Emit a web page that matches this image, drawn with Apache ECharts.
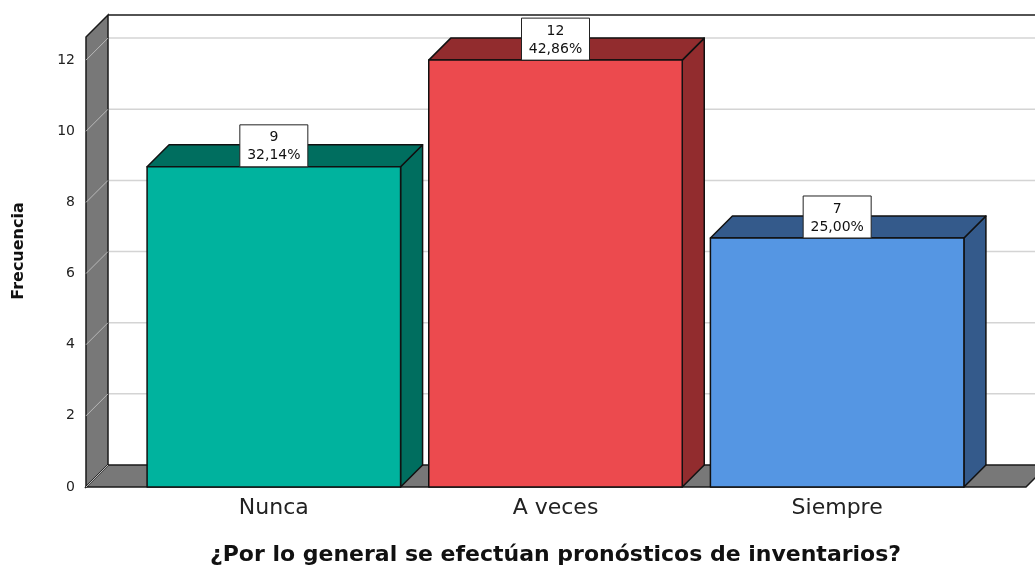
<!DOCTYPE html>
<html>
<head>
<meta charset="utf-8">
<script src="https://cdn.jsdelivr.net/npm/echarts@6/dist/echarts.min.js"></script>
<style>
    html, body { margin: 0; padding: 0; background: #fff; }
    #main { width: 1035px; height: 568px; }
</style>
</head>
<body>
<div id="main"></div>
<script>
// datos del gráfico
var categories = ['Nunca', 'A veces', 'Siempre'];
var frecuencias = [9, 12, 7];
var yTicks = [0, 2, 4, 6, 8, 10, 12];

var frontColors = ['#00B39E', '#EC4A4E', '#5596E3'];
var darkColors = ['#006E5F', '#922C2E', '#345A8B'];

var DEPTH = 22;
var FONT = '"DejaVu Sans", Verdana, sans-serif';

var total = frecuencias.reduce(function (a, b) { return a + b; }, 0);

function pctText(v) {
    return (v / total * 100).toFixed(2).replace('.', ',') + '%';
}

// paredes, suelo y lineas de cuadricula
function renderWalls(params, api) {
    var cs = params.coordSys;
    var L = cs.x - 47, R = cs.x + cs.width + 48;
    var T = cs.y, B = cs.y + cs.height;
    var d = DEPTH;
    var children = [];

    children.push({
        type: 'rect',
        shape: { x: L + d, y: T - d, width: R - L + 40, height: B - T },
        style: { fill: '#fff' }
    });

    yTicks.forEach(function (t) {
        var y = api.coord([0, t])[1];
        if (t > 0) {
            children.push({
                type: 'line',
                shape: { x1: L + d, y1: y - d, x2: R + d + 40, y2: y - d },
                style: { stroke: '#d4d4d4', lineWidth: 1.5 }
            });
        }
    });

    // pared izquierda
    children.push({
        type: 'polygon',
        shape: { points: [[L, T], [L + d, T - d], [L + d, B - d], [L, B]] },
        style: { fill: '#787878', stroke: '#1a1a1a', lineWidth: 1.5 }
    });
    // suelo
    children.push({
        type: 'polygon',
        shape: { points: [[L, B], [L + d, B - d], [R + d, B - d], [R, B]] },
        style: { fill: '#787878', stroke: '#1a1a1a', lineWidth: 1.5 }
    });

    yTicks.forEach(function (t) {
        var y = api.coord([0, t])[1];
        children.push({
            type: 'line',
            shape: { x1: L, y1: y, x2: L + d, y2: y - d },
            style: { stroke: '#b8b8b8', lineWidth: 1 }
        });
    });

    // borde superior de la pared del fondo
    children.push({
        type: 'line',
        shape: { x1: L + d, y1: T - d, x2: R + d + 40, y2: T - d },
        style: { stroke: '#1a1a1a', lineWidth: 1.5 }
    });

    return { type: 'group', children: children };
}

// barra 3D con etiqueta
function renderBar(params, api) {
    var idx = api.value(0);
    var v = api.value(1);
    var base = api.coord([idx, 0]);
    var top = api.coord([idx, v]);
    var bw = api.size([1, 0])[0] * 0.9;
    var x0 = base[0] - bw / 2, x1 = base[0] + bw / 2;
    var yt = top[1], yb = base[1];
    var d = DEPTH;
    var stroke = { stroke: '#111', lineWidth: 1.5, lineJoin: 'round' };

    var boxW = 68, boxH = 42;

    return {
        type: 'group',
        children: [
            {
                type: 'polygon',
                shape: { points: [[x1, yt], [x1 + d, yt - d], [x1 + d, yb - d], [x1, yb]] },
                style: Object.assign({ fill: darkColors[idx] }, stroke)
            },
            {
                type: 'polygon',
                shape: { points: [[x0, yt], [x1, yt], [x1 + d, yt - d], [x0 + d, yt - d]] },
                style: Object.assign({ fill: darkColors[idx] }, stroke)
            },
            {
                type: 'rect',
                shape: { x: x0, y: yt, width: bw, height: yb - yt },
                style: Object.assign({ fill: frontColors[idx] }, stroke)
            },
            {
                type: 'rect',
                shape: { x: base[0] - boxW / 2, y: yt - boxH, width: boxW, height: boxH },
                style: { fill: '#fff', stroke: '#222', lineWidth: 1 }
            },
            {
                type: 'text',
                x: base[0],
                y: yt - boxH / 2 + 1,
                style: {
                    text: v + '\n' + pctText(v),
                    font: '14px ' + FONT,
                    fill: '#111',
                    align: 'center',
                    verticalAlign: 'middle',
                    lineHeight: 18
                }
            }
        ]
    };
}

var chart = echarts.init(document.getElementById('main'));

var option = {
    animation: false,
    backgroundColor: '#fff',
    grid: { left: 133, right: 57, top: 37, bottom: 81, outerBoundsMode: 'none', containLabel: false },
    xAxis: {
        type: 'category',
        data: categories,
        axisLine: { show: false },
        axisTick: { show: false },
        axisLabel: { fontFamily: FONT, fontSize: 22, color: '#222', margin: 10 },
        name: '¿Por lo general se efectúan pronósticos de inventarios?',
        nameLocation: 'middle',
        nameGap: 57,
        nameTextStyle: { fontFamily: FONT, fontSize: 22, fontWeight: 'bold', color: '#111' }
    },
    yAxis: {
        type: 'value',
        min: 0,
        max: 12.65,
        interval: 2,
        axisLine: { show: false },
        axisTick: { show: false },
        splitLine: { show: false },
        axisLabel: {
            fontFamily: FONT, fontSize: 14, color: '#222', margin: 58,
            formatter: function (val) { return val % 2 === 0 ? String(val) : ''; }
        }
    },
    graphic: [{
        type: 'text',
        x: 19,
        y: 251,
        rotation: Math.PI / 2,
        style: {
            text: 'Frecuencia',
            font: 'bold 16px ' + FONT,
            fill: '#111',
            align: 'center',
            verticalAlign: 'middle'
        }
    }],
    series: [
        {
            type: 'custom',
            renderItem: renderWalls,
            data: [[0, 0]],
            silent: true,
            z: 1
        },
        {
            type: 'custom',
            renderItem: renderBar,
            data: frecuencias.map(function (v, i) { return [i, v]; }),
            z: 2
        }
    ]
};

chart.setOption(option);
</script>
</body>
</html>
